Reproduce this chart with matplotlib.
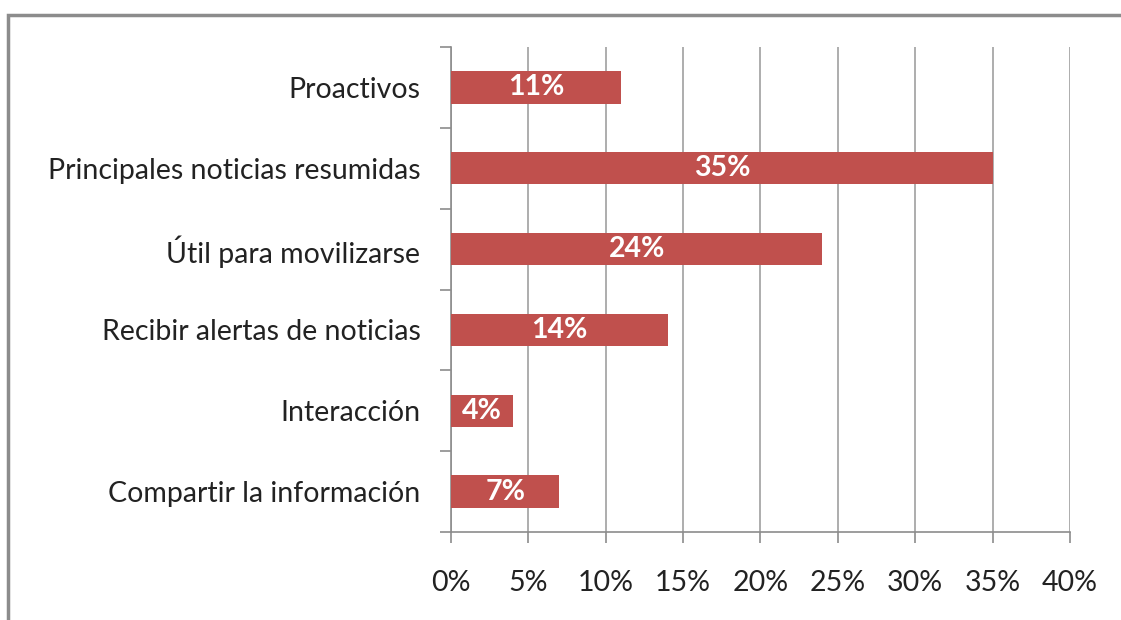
import matplotlib.pyplot as plt
import matplotlib.patches as patches
import numpy as np

categorias = ["Proactivos", "Principales noticias resumidas", "Útil para movilizarse",
              "Recibir alertas de noticias", "Interacción", "Compartir la información"]
valores = [11, 35, 24, 14, 4, 7]
ticks_x = [0, 5, 10, 15, 20, 25, 30, 35, 40]

plt.rcParams['font.family'] = ['Lato', 'DejaVu Sans']

fig = plt.figure(figsize=(11.21, 6.2), dpi=100)
ax = fig.add_axes([0.4023, 0.1419, 0.5522, 0.7823])

# marco gris alrededor del gráfico
borde = patches.Rectangle((8 / 1121, -0.1), 1.2, 1 - 15 / 620 + 0.1, transform=fig.transFigure,
                          fill=False, edgecolor='#8c8c8c', linewidth=2.5, clip_on=False)
fig.patches.append(borde)

y = np.arange(len(categorias))[::-1]
ax.barh(y, valores, height=0.4, color='#C0504D', zorder=3)
for yi, v in zip(y, valores):
    ax.text(v / 2, yi, f"{v}%", ha='center', va='center', color='white',
            fontsize=20.5, fontweight='bold', zorder=4)

ax.set_xlim(0, 40)
ax.set_ylim(-0.5, len(categorias) - 0.5)
ax.set_xticks(ticks_x)
ax.set_xticklabels([f"{t}%" for t in ticks_x], fontsize=20.5, color='#222222')
ax.set_yticks(y)
ax.set_yticklabels(categorias, fontsize=20.5, color='#222222')
ax.set_yticks(np.arange(-0.5, len(categorias)), minor=True)
ax.tick_params(axis='y', which='major', length=0, pad=22)
ax.tick_params(axis='y', which='minor', length=8, color='#8c8c8c', width=1.2)
ax.tick_params(axis='x', length=8, color='#8c8c8c', width=1.2, pad=19)

ax.grid(axis='x', color='#a0a0a0', linewidth=1.2, zorder=0)
for s in ['top', 'right']:
    ax.spines[s].set_visible(False)
for s in ['left', 'bottom']:
    ax.spines[s].set_color('#8c8c8c')
    ax.spines[s].set_linewidth(1.2)

fig.savefig("out.png", dpi=100)
